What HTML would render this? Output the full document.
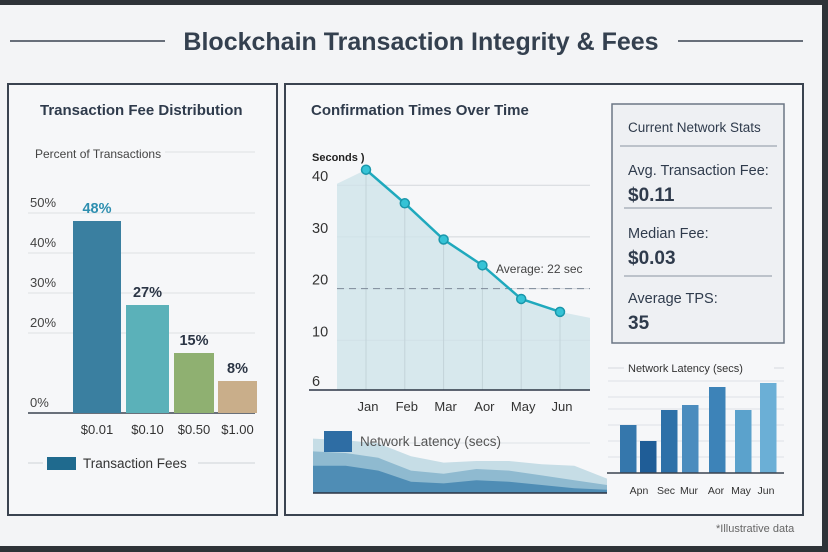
<!DOCTYPE html>
<html><head><meta charset="utf-8"><style>
html,body{margin:0;padding:0;width:828px;height:552px;overflow:hidden;background:#2e3338;}
#bg{position:absolute;left:0;top:5px;width:822px;height:541px;background:#f3f4f6;}
svg{position:absolute;left:0;top:0;}
text{font-family:"Liberation Sans",sans-serif;}
</style></head><body>
<div id="bg"></div>
<svg id="s" width="828" height="552">
<g>
<line x1="10" y1="41" x2="165" y2="41" stroke="#3a4350" stroke-width="1.5"/>
<line x1="678" y1="41" x2="803" y2="41" stroke="#3a4350" stroke-width="1.5"/>
<text x="421" y="50" text-anchor="middle" font-size="25" font-weight="bold" fill="#34404f">Blockchain Transaction Integrity &amp; Fees</text>
</g>
<rect x="8" y="84" width="269" height="431" fill="#f6f7f9" stroke="#3a4350" stroke-width="2"/>
<rect x="285" y="84" width="518" height="431" fill="#f6f7f9" stroke="#3a4350" stroke-width="2"/>
<text x="40" y="115" font-size="15" font-weight="bold" fill="#2f3b4c">Transaction Fee Distribution</text>
<text x="35" y="158" font-size="12" fill="#444">Percent of Transactions</text>
<line x1="165" y1="152" x2="255" y2="152" stroke="#dde0e4"/>
<g id="feeChart"></g>
<g>
<line x1="28" y1="463" x2="43" y2="463" stroke="#cfd3d8"/>
<rect x="47" y="457" width="29" height="13" fill="#1f6a8e"/>
<text x="83" y="468" font-size="13.5" fill="#333">Transaction Fees</text>
<line x1="198" y1="463" x2="255" y2="463" stroke="#cfd3d8"/>
</g>
<text x="311" y="115" font-size="15" font-weight="bold" fill="#2f3b4c">Confirmation Times Over Time</text>
<text x="312" y="161" font-size="11" font-weight="bold" fill="#222">Seconds )</text>
<g id="confChart"></g>
<g id="areaChart"></g>
<g>
<rect x="612" y="104" width="172" height="239" fill="#eef0f3" stroke="#6b7785" stroke-width="1.5"/>
<text x="628" y="132" font-size="13.5" fill="#2f3b4c">Current Network Stats</text>
<line x1="620" y1="146" x2="777" y2="146" stroke="#8a94a0"/>
<text x="628" y="175" font-size="14.5" fill="#2f3b4c">Avg. Transaction Fee:</text>
<text x="628" y="201" font-size="19" font-weight="bold" fill="#2f3b4c">$0.11</text>
<line x1="624" y1="208" x2="772" y2="208" stroke="#8a94a0"/>
<text x="628" y="238" font-size="14.5" fill="#2f3b4c">Median Fee:</text>
<text x="628" y="264" font-size="19" font-weight="bold" fill="#2f3b4c">$0.03</text>
<line x1="624" y1="276" x2="772" y2="276" stroke="#8a94a0"/>
<text x="628" y="303" font-size="14.5" fill="#2f3b4c">Average TPS:</text>
<text x="628" y="329" font-size="19" font-weight="bold" fill="#2f3b4c">35</text>
</g>
<line x1="608" y1="368" x2="624" y2="368" stroke="#d5d9de"/>
<text x="628" y="372" font-size="11" fill="#333">Network Latency (secs)</text>
<line x1="774" y1="368" x2="784" y2="368" stroke="#d5d9de"/>
<g id="latChart"></g>
<text x="716" y="532" font-size="11" fill="#666">*Illustrative data</text>
</svg>
<script>
const NS="http://www.w3.org/2000/svg";
function mk(p,t,a){const e=document.createElementNS(NS,t);for(const k in a)e.setAttribute(k,a[k]);p.appendChild(e);return e;}
// Fee chart data
const feeCats=["$0.01","$0.10","$0.50","$1.00"];
const feeVals=[48,27,15,8];
const feeLabels=["48%","27%","15%","8%"];
const feeTicks=[0,20,30,40,50];
// Confirmation data
const months=["Jan","Feb","Mar","Aor","May","Jun"];
const confVals=[43,36.5,29.5,24.5,18,15.5];
const confTicks=[6,10,20,30,40];
const confAvg=20;
// Latency bars
const latVals=[2.4,1.6,3.15,3.4,4.3,3.15,4.5];
const latLabels=["Apn","Sec","Mur","Aor","May","Jun"];
// Latency area layers
const areaL1=[3.4,3.3,3.1,2.3,1.9,2.0,2.0,1.8,1.7,0.9];
const areaL2=[2.6,2.5,2.2,1.4,1.2,1.5,1.4,1.1,0.8,0.5];
const areaL3=[1.7,1.7,1.4,0.7,0.6,0.8,0.7,0.5,0.3,0.2];

// fee chart
(function(){
const g=document.getElementById('feeChart');
const y=v=>413-v*4.0;
const xs=[73,126,174,218],ws=[48,43,40,39];
const cols=["#3a7fa0","#5bb1b9","#8fb071","#c9ae8a"];
feeTicks.forEach(t=>{
 const l=mk(g,'line',{x1:28,x2:255,y1:y(t),y2:y(t),stroke:t==0?"#3a4350":"#dde0e4","stroke-width":t==0?1.5:1});
 
 
 const tx=mk(g,'text',{x:30,y:y(t)-6,"font-size":13,fill:"#444"});tx.textContent=t+"%";
 
 
});
feeVals.forEach((v,i)=>{
 const r=mk(g,'rect',{x:xs[i],y:y(v),width:ws[i],height:413-y(v),fill:cols[i]});
 
 
 const lb=mk(g,'text',{x:xs[i]+ws[i]/2,y:y(v)-8,"text-anchor":"middle","font-size":14.5,"font-weight":"bold",fill:i==0?"#2e8fb0":"#2b3545"});lb.textContent=feeLabels[i];
 
 
 const c=mk(g,'text',{x:xs[i]+ws[i]/2,y:434,"text-anchor":"middle","font-size":13,fill:"#333"});c.textContent=feeCats[i];
 
 
});
})();
// confirmation chart
(function(){
const g=document.getElementById('confChart');
const y=v=>392-v*5.17;
const x=i=>366+i*38.8;
const yMin=Math.min(...confTicks);
confTicks.forEach(t=>{
 const ty=t===yMin?390:y(t);
 if(t>yMin){const l=mk(g,'line',{x1:337,x2:590,y1:ty,y2:ty,stroke:"#d3d7dc"});
 
 }
 const tx=mk(g,'text',{x:312,y:ty-4,"font-size":14.5,fill:"#333"});tx.textContent=t;
 
 
});
let d="M337,390 L337,"+(y(confVals[0])+14)+" L"+x(0)+","+y(confVals[0]);
confVals.forEach((v,i)=>{d+=" L"+x(i)+","+y(v);});
d+=" L590,"+(y(confVals[5])+6)+" L590,390 Z";
const a=mk(g,'path',{d:d,fill:"#cfe4ea",opacity:0.8});


confVals.forEach((v,i)=>{const l=mk(g,'line',{x1:x(i),x2:x(i),y1:y(v),y2:390,stroke:"#c3d3d9"});
 
 });
const al=mk(g,'line',{x1:337,x2:590,y1:y(confAvg),y2:y(confAvg),stroke:"#7d8a99","stroke-dasharray":"7,5"});


const at=mk(g,'text',{x:496,y:273,"font-size":12,fill:"#444"});at.textContent="Average:  22 sec";


mk(g,'line',{x1:309,x2:590,y1:390,y2:390,stroke:"#2b3545","stroke-width":1.5});
const pl=mk(g,'polyline',{points:confVals.map((v,i)=>x(i)+","+y(v)).join(" "),fill:"none",stroke:"#1fa9bd","stroke-width":2.5});


confVals.forEach((v,i)=>{
 const c=mk(g,'circle',{cx:x(i),cy:y(v),r:4.5,fill:"#35c3d6",stroke:"#1a97ab","stroke-width":1.5});
 
 
 const t=mk(g,'text',{x:x(i)+2,y:411,"text-anchor":"middle","font-size":13,fill:"#333"});t.textContent=months[i];
 
 
});
})();
// area chart
(function(){
const g=document.getElementById('areaChart');
const x=i=>313+i*(294/(areaL1.length-1));
const y=v=>493-v*16;
const mkA=(arr,col,name)=>{let d="M313,493";arr.forEach((v,i)=>d+=" L"+x(i)+","+y(v));d+=" L607,493 Z";
 const p=mk(g,'path',{d:d,fill:col});
 
 };
mk(g,'line',{x1:360,x2:590,y1:443,y2:443,stroke:"#dfe3e7"});
mkA(areaL1,"#c6dde6","latency-area-1");
mkA(areaL2,"#8fbad0","latency-area-2");
mkA(areaL3,"#4f8db5","latency-area-3");
mk(g,'line',{x1:313,x2:607,y1:493,y2:493,stroke:"#2b3545","stroke-width":1.5});
const sw=mk(g,'rect',{x:324,y:431,width:28,height:21,fill:"#2e6da4"});


const t=mk(g,'text',{x:360,y:446,"font-size":13.5,fill:"#555"});t.textContent="Network Latency (secs)";


})();
// latency bars
(function(){
const g=document.getElementById('latChart');
const y=v=>473-v*20;
[381,397,409,425,441,457].forEach(yy=>mk(g,'line',{x1:608,x2:784,y1:yy,y2:yy,stroke:"#dfe2e6"}));
const xs=[620,640,661,682,709,735,760];
const cols=["#3577ac","#1f5d97","#2d70a8","#4b8cbe","#3d83b8","#5ba2cc","#6bafd6"];
latVals.forEach((v,i)=>{
 const r=mk(g,'rect',{x:xs[i],y:y(v),width:16.5,height:473-y(v),fill:cols[i]});
 
 
});
mk(g,'line',{x1:607,x2:784,y1:473,y2:473,stroke:"#3a4350","stroke-width":1.5});
const lx=[639,666,689,716,741,766];
latLabels.forEach((l,i)=>{
 const t=mk(g,'text',{x:lx[i],y:494,"text-anchor":"middle","font-size":10.5,fill:"#333"});t.textContent=l;
 
 
});
})();
</script>
</body></html>
